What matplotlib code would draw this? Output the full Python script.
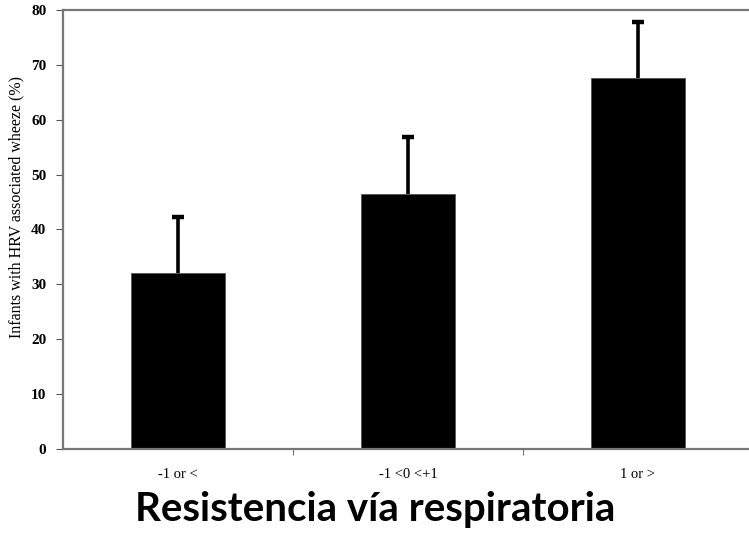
import matplotlib
matplotlib.use("Agg")
import matplotlib.pyplot as plt
import numpy as np

categories = ["-1 or <", "-1 <0 <+1", "1 or >"]
values = [32.0, 46.5, 67.6]
errors = [10.3, 10.4, 10.3]
yticks = [0, 10, 20, 30, 40, 50, 60, 70, 80]

W, H = 749, 547
fig = plt.figure(figsize=(W / 100, H / 100), dpi=100)
left, right, top, bottom = 63, 753, 10, 449
ax = fig.add_axes([left / W, 1 - bottom / H, (right - left) / W, (bottom - top) / H])

x = np.arange(len(categories))
vals = np.array(values)
errs = np.array(errors)
ax.bar(x, vals, width=0.41, color="black", edgecolor="#555555", linewidth=0.6, zorder=2)
ax.errorbar(x, vals, yerr=[np.zeros(len(errs)), errs], fmt="none",
            ecolor="black", elinewidth=2.6, capsize=0, zorder=3)
ax.plot(x, vals + errs, linestyle="none", marker="_", markersize=9,
        markeredgewidth=3.2, color="black", zorder=4)

ax.set_xlim(-0.5, len(categories) - 0.5)
ax.set_ylim(0, 80)
ax.set_yticks(yticks)
ax.set_yticklabels([str(t) for t in yticks], fontfamily="Liberation Serif",
                   fontweight="bold", fontsize=11)
ax.set_xticks(x)
ax.set_xticklabels(categories, fontfamily="Liberation Serif", fontsize=10.5)
ax.set_xticks([0.5, 1.5], minor=True)
ax.tick_params(axis="x", which="major", length=0, pad=14)
ax.tick_params(axis="x", which="minor", length=4, direction="out", color="#555555")
ax.tick_params(axis="y", length=5, direction="out", color="#555555", pad=7)

for side in ["left", "bottom", "top", "right"]:
    ax.spines[side].set_color("#777777")
    ax.spines[side].set_linewidth(1.6)

fig.text(16 / W, 1 - 207 / H, "Infants with HRV associated wheeze (%)", rotation=90,
         fontfamily="Liberation Serif", fontsize=11.5, ha="center", va="center")

fig.text(375 / W, 1 - 509 / H, "Resistencia vía respiratoria", fontfamily="Lato",
         fontweight="bold", fontsize=29, ha="center", va="center")

fig.savefig("out.png", dpi=100)
